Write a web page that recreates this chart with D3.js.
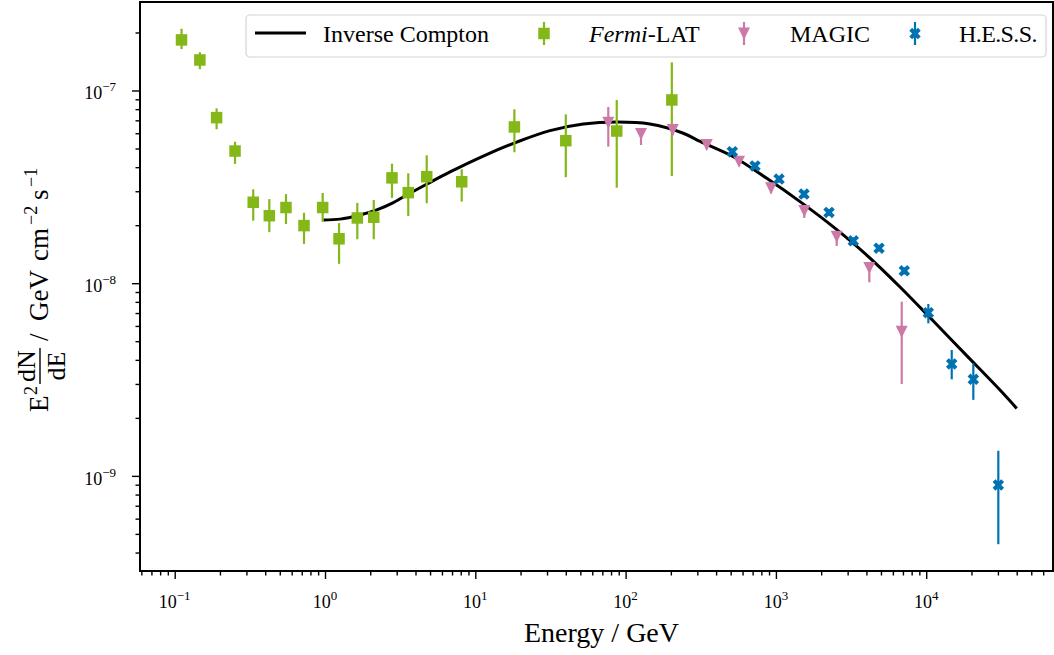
<!DOCTYPE html>
<html>
<head>
<meta charset="utf-8">
<script src="https://cdn.jsdelivr.net/npm/d3@7"></script>
<style>
  body { margin: 0; background: #fff; }
  text { font-family: "Liberation Serif", "DejaVu Serif", serif; fill: #000; }
</style>
</head>
<body>
<div id="chart"></div>
<script>
// Fermi-LAT points: energy (GeV), E^2 dN/dE and error bar ends
var fermiE  = [0.111, 0.147, 0.190, 0.252, 0.333, 0.426, 0.550, 0.725, 0.965, 1.24, 1.64, 2.11, 2.79, 3.58, 4.75, 8.12, 18.2, 40.0, 87.3, 203];
var fermiF  = [1.83e-7, 1.44e-7, 7.23e-8, 4.85e-8, 2.63e-8, 2.24e-8, 2.47e-8, 1.99e-8, 2.47e-8, 1.70e-8, 2.18e-8, 2.20e-8, 3.52e-8, 2.95e-8, 3.57e-8, 3.36e-8, 6.47e-8, 5.49e-8, 6.16e-8, 8.93e-8];
var fermiLo = [1.64e-7, 1.29e-7, 6.29e-8, 4.16e-8, 2.11e-8, 1.84e-8, 2.03e-8, 1.60e-8, 2.08e-8, 1.26e-8, 1.69e-8, 1.69e-8, 2.77e-8, 2.23e-8, 2.60e-8, 2.65e-8, 4.78e-8, 3.55e-8, 3.13e-8, 3.60e-8];
var fermiHi = [2.09e-7, 1.58e-7, 8.08e-8, 5.42e-8, 3.07e-8, 2.73e-8, 2.90e-8, 2.32e-8, 2.94e-8, 2.05e-8, 2.61e-8, 2.70e-8, 4.17e-8, 3.72e-8, 4.61e-8, 3.90e-8, 7.99e-8, 7.52e-8, 8.93e-8, 1.40e-7];

// MAGIC points
var magicE  = [76.7, 126.6, 205.8, 346.5, 568, 928, 1545, 2538, 4182, 6871];
var magicF  = [6.81e-8, 5.94e-8, 6.24e-8, 5.21e-8, 4.27e-8, 3.11e-8, 2.37e-8, 1.74e-8, 1.20e-8, 5.60e-9];
var magicLo = [5.11e-8, 5.21e-8, 5.85e-8, 4.95e-8, 4.05e-8, 2.92e-8, 2.18e-8, 1.56e-8, 1.01e-8, 3.00e-9];
var magicHi = [8.21e-8, 6.37e-8, 6.60e-8, 5.45e-8, 4.50e-8, 3.30e-8, 2.52e-8, 1.85e-8, 1.27e-8, 8.02e-9];

// H.E.S.S. points
var hessE  = [513, 726, 1049, 1538, 2256, 3273, 4853, 7150, 10330, 14780, 20580, 30180];
var hessF  = [4.81e-8, 4.06e-8, 3.47e-8, 2.90e-8, 2.33e-8, 1.66e-8, 1.52e-8, 1.16e-8, 7.03e-9, 3.81e-9, 3.17e-9, 8.97e-10];
var hessLo = [4.62e-8, 3.90e-8, 3.33e-8, 2.78e-8, 2.23e-8, 1.59e-8, 1.46e-8, 1.11e-8, 6.19e-9, 3.17e-9, 2.48e-9, 4.42e-10];
var hessHi = [5.00e-8, 4.22e-8, 3.61e-8, 3.02e-8, 2.43e-8, 1.73e-8, 1.58e-8, 1.21e-8, 7.80e-9, 4.50e-9, 3.84e-9, 1.35e-9];

// Inverse Compton model curve
var icE = [0.974, 1.258, 1.71, 2.21, 2.85, 3.68, 4.77, 6.79, 11.3, 18.9, 31.4, 52.3, 87.3, 145, 242, 313, 521, 869, 1447, 2410, 4018, 6695, 11150, 18600, 30970, 40020];
var icF = [2.13e-8, 2.15e-8, 2.26e-8, 2.40e-8, 2.62e-8, 2.93e-8, 3.27e-8, 3.78e-8, 4.57e-8, 5.40e-8, 6.19e-8, 6.70e-8, 6.86e-8, 6.70e-8, 6.00e-8, 5.44e-8, 4.53e-8, 3.50e-8, 2.65e-8, 1.96e-8, 1.40e-8, 9.56e-9, 6.36e-9, 4.21e-9, 2.79e-9, 2.24e-9];

// tick values (decade exponents)
var xMajor = [-1, 0, 1, 2, 3, 4];
var yMajor = [-9, -8, -7];

var green = "#83b818", pink = "#cc79a7", blue = "#0072b2";

var width = 1054, height = 655;
var margin = { top: 2, right: 1, bottom: 84, left: 140 };

var svg = d3.select("#chart")
    .append("svg")
    .attr("width", width)
    .attr("height", height);

var x = d3.scaleLog()
    .domain([0.05876, 69750])
    .range([margin.left, width - margin.right]);
var y = d3.scaleLog()
    .domain([3.209e-10, 2.879e-7])
    .range([height - margin.bottom, margin.top]);

// minor tick values from the scale domains
function minors(sc) {
    var d = sc.domain(), out = [];
    for (var k = Math.floor(Math.log10(d[0])); k <= Math.ceil(Math.log10(d[1])); k++) {
        for (var m = 2; m <= 9; m++) {
            var v = m * Math.pow(10, k);
            if (v >= d[0] && v <= d[1]) out.push(v);
        }
    }
    return out;
}

var yBottom = height - margin.bottom;

// axes (ticks only, labels drawn below with superscripts)
function tickAxis(axis, values, size) {
    return axis.tickValues(values).tickSize(size).tickSizeOuter(0).tickFormat("");
}
var gxMaj = svg.append("g").attr("transform", "translate(0," + yBottom + ")")
    .call(tickAxis(d3.axisBottom(x), xMajor.map(function (k) { return Math.pow(10, k); }), 8));
var gxMin = svg.append("g").attr("transform", "translate(0," + yBottom + ")")
    .call(tickAxis(d3.axisBottom(x), minors(x), 4.5));
var gyMaj = svg.append("g").attr("transform", "translate(" + margin.left + ",0)")
    .call(tickAxis(d3.axisLeft(y), yMajor.map(function (k) { return Math.pow(10, k); }), 8));
var gyMin = svg.append("g").attr("transform", "translate(" + margin.left + ",0)")
    .call(tickAxis(d3.axisLeft(y), minors(y), 4.5));
[gxMaj, gxMin, gyMaj, gyMin].forEach(function (g) {
    g.select(".domain").remove();
    g.selectAll("line").attr("stroke", "#000").attr("stroke-width", 1.4);
});

// frame
svg.append("rect")
    .attr("x", margin.left).attr("y", margin.top)
    .attr("width", width - margin.right - margin.left)
    .attr("height", yBottom - margin.top)
    .attr("fill", "none").attr("stroke", "#000").attr("stroke-width", 2);

// tick labels
xMajor.forEach(function (k) {
    var t = svg.append("text")
        .attr("x", x(Math.pow(10, k))).attr("y", yBottom + 37)
        .attr("text-anchor", "middle").style("font-size", "18px");
    t.append("tspan").text("10");
    t.append("tspan").attr("dy", -8).style("font-size", "13px").text(String(k).replace("-", "\u2212"));
});
yMajor.forEach(function (k) {
    var t = svg.append("text")
        .attr("x", 116).attr("y", y(Math.pow(10, k)) + 9)
        .attr("text-anchor", "end").style("font-size", "18px");
    t.append("tspan").text("10");
    t.append("tspan").attr("dy", -8).style("font-size", "13px").text(String(k).replace("-", "\u2212"));
});

// x label
svg.append("text")
    .attr("x", (margin.left + width - margin.right) / 2 + 5)
    .attr("y", 642)
    .attr("text-anchor", "middle")
    .style("font-size", "28px")
    .text("Energy / GeV");

// y label: E^2 dN/dE / GeV cm^-2 s^-1 (rotated, runs upward from y=412)
var yl = svg.append("g").attr("transform", "translate(48,412) rotate(-90)");
function piece(str, px, size, dy) {
    yl.append("text").attr("x", px).attr("y", dy).style("font-size", size + "px").text(str);
}
piece("E", 0, 27, 0);
piece("2", 17, 18, -11);
yl.append("text").attr("x", 46).attr("y", -13).attr("text-anchor", "middle").style("font-size", "26px").text("dN");
yl.append("text").attr("x", 46).attr("y", 17).attr("text-anchor", "middle").style("font-size", "26px").text("dE");
yl.append("line").attr("x1", 28).attr("x2", 64).attr("y1", -8).attr("y2", -8)
    .attr("stroke", "#000").attr("stroke-width", 1.4);
piece("/", 71, 27, 0);
piece("GeV", 91, 27, 0);
piece("cm", 151, 27, 0);
piece("\u22122", 187, 18, -11);
piece("s", 212, 27, 0);
piece("\u22121", 225, 18, -11);

// Inverse Compton curve
var icData = icE.map(function (e, i) { return [e, icF[i]]; });
svg.append("path")
    .datum(icData)
    .attr("fill", "none")
    .attr("stroke", "#000")
    .attr("stroke-width", 3)
    .attr("d", d3.line()
        .x(function (d) { return x(d[0]); })
        .y(function (d) { return y(d[1]); })
        .curve(d3.curveCatmullRom.alpha(0.5)));

// marker shapes (s = full marker extent in px)
function square(s) { var h = s / 2; return "M" + (-h) + "," + (-h) + "H" + h + "V" + h + "H" + (-h) + "Z"; }
function triDown(s) { var h = s / 2; return "M0," + h + "L" + (-h) + "," + (-h) + "L" + h + "," + (-h) + "Z"; }
function xFilled(s) {
    var p = [[-1, -2], [0, -1], [1, -2], [2, -1], [1, 0], [2, 1], [1, 2], [0, 1], [-1, 2], [-2, 1], [-1, 0], [-2, -1]];
    return "M" + p.map(function (q) { return (q[0] * s / 4) + "," + (q[1] * s / 4); }).join("L") + "Z";
}

function series(E, F, Lo, Hi, color, shape) {
    var g = svg.append("g");
    g.selectAll("line").data(E).enter().append("line")
        .attr("x1", function (d) { return x(d); })
        .attr("x2", function (d) { return x(d); })
        .attr("y1", function (d, i) { return y(Lo[i]); })
        .attr("y2", function (d, i) { return y(Hi[i]); })
        .attr("stroke", color).attr("stroke-width", 2.2);
    g.selectAll("path").data(E).enter().append("path")
        .attr("d", shape)
        .attr("transform", function (d, i) { return "translate(" + x(d) + "," + y(F[i]) + ")"; })
        .attr("fill", color);
}
series(fermiE, fermiF, fermiLo, fermiHi, green, square(11.5));
series(magicE, magicF, magicLo, magicHi, pink, triDown(12));
series(hessE, hessF, hessLo, hessHi, blue, xFilled(11.5));

// legend
var lg = svg.append("g");
lg.append("rect")
    .attr("x", 246).attr("y", 15).attr("width", 800).attr("height", 42).attr("rx", 4)
    .attr("fill", "#fff").attr("fill-opacity", 0.8)
    .attr("stroke", "#d4d4d4").attr("stroke-width", 1.2);
lg.append("line").attr("x1", 255).attr("x2", 306).attr("y1", 33).attr("y2", 33)
    .attr("stroke", "#000").attr("stroke-width", 3);
lg.append("text").attr("x", 323).attr("y", 42).style("font-size", "24px").text("Inverse Compton");

function legendMark(cx, color, shape) {
    lg.append("line").attr("x1", cx).attr("x2", cx).attr("y1", 22).attr("y2", 45)
        .attr("stroke", color).attr("stroke-width", 2.2);
    lg.append("path").attr("d", shape)
        .attr("transform", "translate(" + cx + ",33.5)")
        .attr("fill", color);
}
legendMark(544, green, square(11.5));
var ft = lg.append("text").attr("x", 589).attr("y", 42).style("font-size", "24px");
ft.append("tspan").style("font-style", "italic").text("Fermi");
ft.append("tspan").text("-LAT");
legendMark(744, pink, triDown(12));
lg.append("text").attr("x", 790).attr("y", 42).style("font-size", "24px").text("MAGIC");
legendMark(915, blue, xFilled(11.5));
lg.append("text").attr("x", 959).attr("y", 42).style("font-size", "24px").attr("letter-spacing", "-0.6").text("H.E.S.S.");
</script>
</body>
</html>
